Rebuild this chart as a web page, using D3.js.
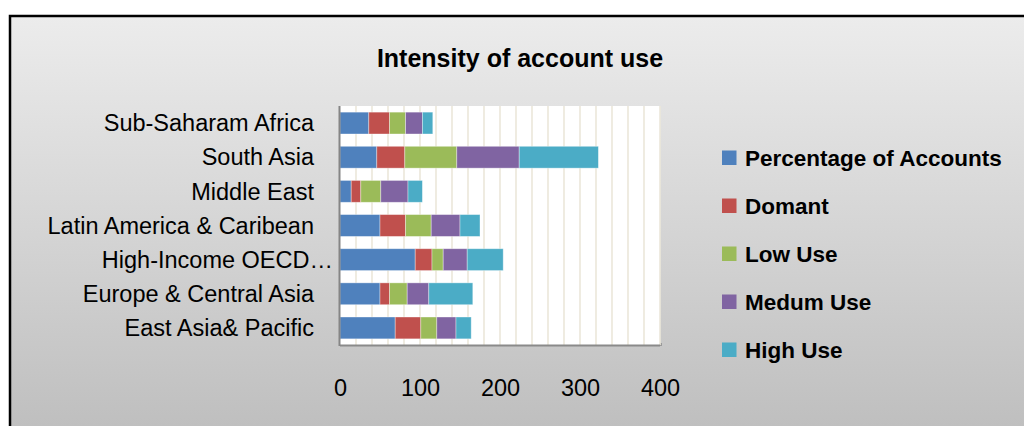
<!DOCTYPE html>
<html>
<head>
<meta charset="utf-8">
<script src="https://cdn.jsdelivr.net/npm/d3@7"></script>
<style>
  html, body { margin: 0; padding: 0; background: #ffffff; }
  svg { display: block; font-family: "Liberation Sans", Arial, sans-serif; }
</style>
</head>
<body>
<svg id="chart" width="1024" height="426"></svg>
<script>
// Regions, listed top to bottom as they appear on the chart
const categories = [
  "Sub-Saharam Africa",
  "South Asia",
  "Middle East",
  "Latin America & Caribean",
  "High-Income OECD…",
  "Europe & Central Asia",
  "East Asia& Pacific"
];

// Stacked series values per region
const percentageOfAccounts = [36, 46, 14, 50, 94, 50, 69];
const domant              = [26, 35, 12, 32, 21, 12, 32];
const lowUse              = [20, 65, 25, 32, 14, 22, 20];
const medumUse            = [21, 78, 34, 36, 30, 27, 24];
const highUse             = [13, 99, 18, 25, 45, 55, 19];

const seriesNames = ["Percentage of Accounts", "Domant", "Low Use", "Medum Use", "High Use"];
const seriesColors = ["#4f81bd", "#c0504d", "#9bbb59", "#8064a2", "#4bacc6"];
const xTicks = [0, 100, 200, 300, 400];
const xGridStep = 20;

const seriesValues = [percentageOfAccounts, domant, lowUse, medumUse, highUse];
const keys = seriesNames;
const table = categories.map((c, i) => {
  const row = { category: c };
  keys.forEach((k, j) => { row[k] = seriesValues[j][i]; });
  return row;
});

const svg = d3.select("#chart");

// Chart frame with a soft vertical gradient
const defs = svg.append("defs");
const grad = defs.append("linearGradient")
  .attr("id", "bgGrad").attr("x1", 0).attr("y1", 0).attr("x2", 0).attr("y2", 1);
grad.append("stop").attr("offset", "0%").attr("stop-color", "#ececec");
grad.append("stop").attr("offset", "100%").attr("stop-color", "#bfbfbf");

svg.append("rect")
  .attr("x", 10).attr("y", 16).attr("width", 1014).attr("height", 410)
  .attr("fill", "url(#bgGrad)");
svg.append("path")
  .attr("d", "M10,426 V16 H1024")
  .attr("fill", "none").attr("stroke", "#000").attr("stroke-width", 2.5);

// Title
svg.append("text")
  .attr("x", 520).attr("y", 67)
  .attr("text-anchor", "middle")
  .attr("font-weight", "bold")
  .attr("font-size", 25)
  .attr("fill", "#000")
  .text("Intensity of account use");

// Plot area
const plot = { left: 340, right: 660, top: 106, bottom: 345 };

const x = d3.scaleLinear().domain([0, 400]).range([plot.left, plot.right]);
const y = d3.scaleBand().domain(categories)
  .range([plot.top, plot.bottom])
  .paddingInner(0.36).paddingOuter(0.18);

svg.append("rect")
  .attr("x", plot.left + 2).attr("y", plot.bottom - 2)
  .attr("width", plot.right - plot.left).attr("height", 3)
  .attr("fill", "#9a9a9a");
svg.append("rect")
  .attr("x", plot.left).attr("y", plot.top)
  .attr("width", plot.right - plot.left).attr("height", plot.bottom - plot.top)
  .attr("fill", "#ffffff");

// Vertical gridlines
svg.append("g")
  .selectAll("line")
  .data(d3.range(xGridStep, 400 + 1, xGridStep))
  .join("line")
  .attr("x1", d => x(d)).attr("x2", d => x(d))
  .attr("y1", plot.top).attr("y2", plot.bottom)
  .attr("stroke", "#ebe7da").attr("stroke-width", 1.6);

// Stacked bars
const stacked = d3.stack().keys(keys)(table);
svg.append("g")
  .selectAll("g")
  .data(stacked)
  .join("g")
  .attr("fill", (d, i) => seriesColors[i])
  .selectAll("rect")
  .data(d => d)
  .join("rect")
  .attr("x", d => x(d[0]))
  .attr("y", d => y(d.data.category))
  .attr("width", d => x(d[1]) - x(d[0]))
  .attr("height", y.bandwidth())
  .attr("stroke", "rgba(255,255,255,0.45)")
  .attr("stroke-width", 0.8);

// Bottom and left axis lines
svg.append("line")
  .attr("x1", plot.left).attr("x2", plot.right)
  .attr("y1", plot.bottom + 0.5).attr("y2", plot.bottom + 0.5)
  .attr("stroke", "#8a8a8a").attr("stroke-width", 2);
svg.append("line")
  .attr("x1", plot.left - 0.5).attr("x2", plot.left - 0.5)
  .attr("y1", plot.top).attr("y2", plot.bottom + 1)
  .attr("stroke", "#858585").attr("stroke-width", 2);

// Category axis
const yAxis = svg.append("g")
  .attr("transform", `translate(${plot.left},0)`)
  .call(d3.axisLeft(y).tickSize(0).tickPadding(26));
yAxis.select(".domain").remove();
yAxis.selectAll("text")
  .attr("font-family", "'Liberation Sans', Arial, sans-serif")
  .attr("font-size", 23.5)
  .attr("fill", "#000")
  .attr("dy", "0.35em")
  .attr("x", d => d.endsWith("…") ? -7 : -26);

// Value axis
const xAxis = svg.append("g")
  .attr("transform", `translate(0,${plot.bottom})`)
  .call(d3.axisBottom(x).tickValues(xTicks).tickSize(0).tickPadding(34));
xAxis.select(".domain").remove();
xAxis.selectAll("text")
  .attr("font-family", "'Liberation Sans', Arial, sans-serif")
  .attr("font-size", 23.5)
  .attr("fill", "#000");

// Legend
const legend = svg.append("g")
  .selectAll("g")
  .data(seriesNames)
  .join("g")
  .attr("transform", (d, i) => `translate(722,${158 + i * 48})`);
legend.append("rect")
  .attr("x", 0).attr("y", -7.5)
  .attr("width", 14.5).attr("height", 14.5)
  .attr("fill", (d, i) => seriesColors[i]);
legend.append("text")
  .attr("x", 23).attr("y", 8)
  .attr("font-weight", "bold")
  .attr("font-size", 22.5)
  .attr("fill", "#000")
  .text(d => d);
</script>
</body>
</html>
